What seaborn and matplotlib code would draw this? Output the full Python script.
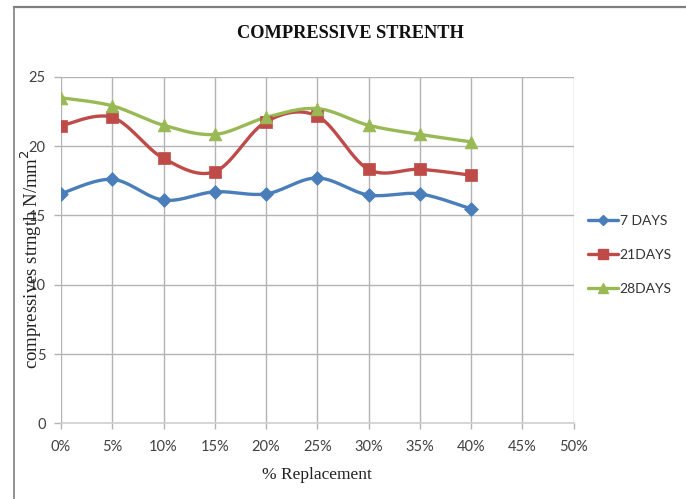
import numpy as np
import pandas as pd
import matplotlib
matplotlib.use("Agg")
import matplotlib.pyplot as plt
from matplotlib.lines import Line2D
import seaborn as sns

# ---- data ----
replacement = [0, 5, 10, 15, 20, 25, 30, 35, 40]
x_ticks = [0, 5, 10, 15, 20, 25, 30, 35, 40, 45, 50]
x_tick_labels = ["0%", "5%", "10%", "15%", "20%", "25%", "30%", "35%", "40%", "45%", "50%"]
y_ticks = [0, 5, 10, 15, 20, 25]
days7 = [16.57, 17.6, 16.1, 16.7, 16.55, 17.7, 16.47, 16.55, 15.47]
days21 = [21.46, 22.07, 19.11, 18.15, 21.75, 22.16, 18.32, 18.32, 17.9]
days28 = [23.48, 22.9, 21.5, 20.84, 22.07, 22.7, 21.5, 20.84, 20.3]
series_names = ["7 DAYS", "21DAYS", "28DAYS"]

sns.set_theme(style="white")
plt.rcParams["font.family"] = ["Lato", "DejaVu Sans"]

colors = ["#4A7EBB", "#BE4B48", "#98B954"]
markers = ["D", "s", "^"]
msizes = [50, 80, 85]


def smooth(xs, ys, n=30):
    # Bezier smoothing similar to spreadsheet "smoothed line"
    xs = np.asarray(xs, float)
    ys = np.asarray(ys, float)
    px = np.concatenate([[xs[0]], xs, [xs[-1]]])
    py = np.concatenate([[ys[0]], ys, [ys[-1]]])
    outx, outy = [], []
    for i in range(1, len(px) - 2):
        p0 = np.array([px[i - 1], py[i - 1]])
        p1 = np.array([px[i], py[i]])
        p2 = np.array([px[i + 1], py[i + 1]])
        p3 = np.array([px[i + 2], py[i + 2]])
        c1 = p1 + (p2 - p0) / 6.0
        c2 = p2 - (p3 - p1) / 6.0
        t = np.linspace(0, 1, n)[:, None]
        b = (1 - t) ** 3 * p1 + 3 * (1 - t) ** 2 * t * c1 + 3 * (1 - t) * t ** 2 * c2 + t ** 3 * p2
        outx.extend(b[:, 0])
        outy.extend(b[:, 1])
    return np.array(outx), np.array(outy)


fig = plt.figure(figsize=(6.86, 4.99), dpi=100)
ax = fig.add_axes([61 / 686, 1 - 423.4 / 499, (573.5 - 61) / 686, (423.4 - 76.7) / 499])

for name, vals, c, m, ms in zip(series_names, [days7, days21, days28], colors, markers, msizes):
    sx, sy = smooth(replacement, vals)
    dfl = pd.DataFrame({"x": sx, "y": sy})
    sns.lineplot(data=dfl, x="x", y="y", ax=ax, color=c, lw=2.4, sort=False,
                 estimator=None, legend=False, zorder=3)
    dfp = pd.DataFrame({"x": replacement, "y": vals})
    sns.scatterplot(data=dfp, x="x", y="y", ax=ax, color=c, marker=m, s=ms,
                    edgecolor=c, linewidth=0.5, legend=False, zorder=4)

ax.set_xlim(0, 50)
ax.set_ylim(0, 25)
ax.set_xticks(x_ticks)
ax.set_xticklabels(x_tick_labels)
ax.set_yticks(y_ticks)
ax.grid(True, color="#B3B3B3", lw=1)
ax.set_axisbelow(True)
for s in ["top", "right", "left"]:
    ax.spines[s].set_visible(False)
ax.spines["bottom"].set_color("#D0D0D0")
ax.spines["bottom"].set_linewidth(1.2)
ax.tick_params(axis="y", which="major", left=True, length=5, width=1, color="#B3B3B3",
               labelsize=10.5, labelcolor="#404040", pad=6)
ax.tick_params(axis="x", which="major", bottom=True, length=4, width=1, color="#B3B3B3",
               labelsize=10.5, labelcolor="#404040", pad=8)

ax.set_xlabel("% Replacement", fontsize=12.5, family=["Liberation Serif"], color="#222222", labelpad=9)
ax.set_ylabel("")
fig.text(0.046, 0.48, "compressives strngth N/mm$^{2}$", rotation=90, ha="center", va="center",
         fontsize=13.5, family=["Liberation Serif"], color="#222222")

fig.text(350 / 686, 1 - 33 / 499, "COMPRESSIVE STRENTH", ha="center", va="center",
         fontsize=13.2, fontweight="bold", family=["Liberation Serif"], color="#111111")

# outer chart frame (left & top edges visible)
fig.add_artist(Line2D([14 / 686, 14 / 686], [0, 1 - 7 / 499], transform=fig.transFigure,
                      color="#7F7F7F", lw=1.2))
fig.add_artist(Line2D([14 / 686, 1], [1 - 7 / 499, 1 - 7 / 499], transform=fig.transFigure,
                      color="#7F7F7F", lw=1.6))

handles = [Line2D([0], [0], color=c, lw=2.4, marker=m, markersize=sz, markeredgecolor=c)
           for c, m, sz in zip(colors, markers, [5, 7, 7])]
leg = fig.legend(handles, series_names, loc="center left", bbox_to_anchor=(582 / 686, 1 - 255 / 499),
                 frameon=False, fontsize=10, handlelength=2.2, handletextpad=0.1,
                 labelspacing=1.6, borderaxespad=0)
for t in leg.get_texts():
    t.set_color("#333333")

fig.savefig("out.png", dpi=100)
